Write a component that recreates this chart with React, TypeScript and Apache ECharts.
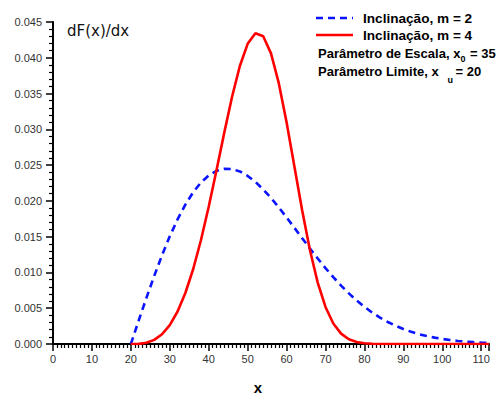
import React, { useEffect, useRef } from "react";
import * as echarts from "echarts";

const xValues = [20, 22, 24, 26, 28, 30, 32, 34, 36, 38, 40, 42, 44, 46, 48, 50, 52, 54, 56, 58, 60, 62, 64, 66, 68, 70, 72, 74, 76, 78, 80, 82, 84, 86, 88, 90, 92, 94, 96, 98, 100, 102, 104, 106, 108, 110, 112];

const slope2 = [0, 0.00326, 0.00645, 0.00951, 0.0124, 0.01505, 0.01742, 0.01948, 0.0212, 0.02256, 0.02356, 0.0242, 0.02449, 0.02445, 0.02411, 0.02349, 0.02265, 0.0216, 0.02041, 0.01909, 0.01769, 0.01625, 0.01479, 0.01335, 0.01195, 0.01061, 0.00934, 0.00816, 0.00707, 0.00608, 0.00519, 0.00439, 0.00369, 0.00308, 0.00255, 0.00209, 0.00171, 0.00138, 0.00111, 0.00089, 0.0007, 0.00055, 0.00043, 0.00034, 0.00026, 0.0002, 0.00015];

const slope4 = [0, 0.00002, 0.00017, 0.00058, 0.00136, 0.00265, 0.00454, 0.00713, 0.01045, 0.0145, 0.01917, 0.02428, 0.02954, 0.03455, 0.03885, 0.04195, 0.04343, 0.043, 0.04061, 0.03645, 0.03099, 0.02483, 0.01869, 0.01313, 0.00858, 0.00518, 0.00287, 0.00145, 0.00067, 0.00028, 0.0001, 0.00003, 0, 0, 0, 0, 0, 0, 0, 0, 0, 0, 0, 0, 0, 0, 0];

const seriesNames = ["Inclinação, m = 2", "Inclinação, m = 4"];
const yLabel = "dF(x)/dx";
const xLabel = "x";

const W = 499;
const H = 394;
const BLUE = "#0a14ff";
const RED = "#ff0000";

export default function App() {
  const ref = useRef<HTMLDivElement>(null);
  useEffect(() => {
    if (!ref.current) return;
    const chart = echarts.init(ref.current, null, { renderer: "svg", width: W, height: H });
    const bold = { fontFamily: "Liberation Sans, Arial, sans-serif", fontWeight: "bold" as const, fill: "#000" };
    chart.setOption({
      animation: false,
      backgroundColor: "#fff",
      grid: { left: 53, right: 10, top: 22, bottom: 50 },
      xAxis: {
        type: "value",
        min: 0,
        max: 112,
        interval: 10,
        axisLine: { show: true, lineStyle: { color: "#000", width: 2 } },
        axisTick: { show: true, length: 7, lineStyle: { color: "#000", width: 1.5 } },
        minorTick: { show: true, splitNumber: 10, length: 4, lineStyle: { color: "#000", width: 1.2 } },
        splitLine: { show: false },
        axisLabel: { margin: 9, fontSize: 11, color: "#333", fontFamily: "Liberation Sans, Arial, sans-serif", showMaxLabel: false },
      },
      yAxis: {
        type: "value",
        min: 0,
        max: 0.045,
        interval: 0.005,
        axisLine: { show: true, lineStyle: { color: "#000", width: 2 } },
        axisTick: { show: true, length: 7, lineStyle: { color: "#000", width: 1.5 } },
        minorTick: { show: true, splitNumber: 5, length: 4, lineStyle: { color: "#000", width: 1.2 } },
        splitLine: { show: false },
        axisLabel: {
          margin: 11,
          fontSize: 11,
          color: "#333",
          fontFamily: "Liberation Sans, Arial, sans-serif",
          formatter: (v: number) => v.toFixed(3),
        },
      },
      series: [
        {
          name: seriesNames[0],
          type: "line",
          showSymbol: false,
          symbol: "none",
          data: xValues.map((x, i) => [x, slope2[i]]),
          lineStyle: { color: BLUE, width: 2.6, type: [7, 5] },
          itemStyle: { color: BLUE },
          z: 3,
        },
        {
          name: seriesNames[1],
          type: "line",
          showSymbol: false,
          symbol: "none",
          data: xValues.map((x, i) => [x, slope4[i]]),
          lineStyle: { color: RED, width: 2.6 },
          itemStyle: { color: RED },
          z: 4,
        },
      ],
      graphic: [
        { type: "line", shape: { x1: 316, y1: 18, x2: 353, y2: 18 }, style: { stroke: BLUE, lineWidth: 2.6, lineDash: [7, 5] } },
        { type: "line", shape: { x1: 316, y1: 35, x2: 353, y2: 35 }, style: { stroke: RED, lineWidth: 2.6 } },
        { type: "text", x: 363, y: 18, style: { text: seriesNames[0], ...bold, fontSize: 13.6, verticalAlign: "middle" } },
        { type: "text", x: 363, y: 35.5, style: { text: seriesNames[1], ...bold, fontSize: 13.6, verticalAlign: "middle" } },
        { type: "text", left: 67, top: 23, style: { text: yLabel, font: "15px 'DejaVu Sans', sans-serif", fill: "#111" } },
        { type: "text", x: 258, y: 387, style: { text: xLabel, ...bold, fontSize: 15, align: "center", verticalAlign: "middle" } },
        { type: "text", x: 318, y: 53, style: { text: "Parâmetro de Escala, x", ...bold, fontSize: 13, verticalAlign: "middle" } },
        { type: "text", x: 460.5, y: 58.5, style: { text: "0", ...bold, fontSize: 9, verticalAlign: "middle" } },
        { type: "text", x: 470, y: 53, style: { text: "= 35", ...bold, fontSize: 13, verticalAlign: "middle" } },
        { type: "text", x: 318, y: 71, style: { text: "Parâmetro Limite, x", ...bold, fontSize: 13, verticalAlign: "middle" } },
        { type: "text", x: 447.5, y: 80, style: { text: "u", ...bold, fontSize: 9, verticalAlign: "middle" } },
        { type: "text", x: 455.5, y: 71, style: { text: "= 20", ...bold, fontSize: 13, verticalAlign: "middle" } },
      ],
    });
    return () => chart.dispose();
  }, []);
  return <div ref={ref} style={{ position: "fixed", left: 0, top: 0, width: W, height: H, background: "#fff" }} />;
}
